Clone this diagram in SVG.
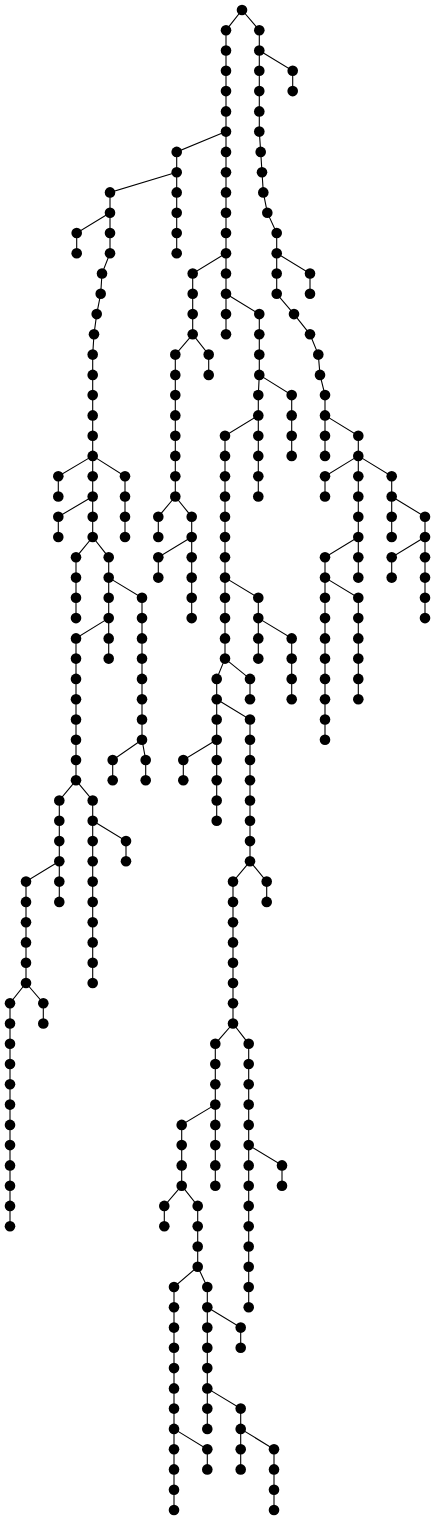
<svg xmlns="http://www.w3.org/2000/svg" width="435" height="1520" viewBox="0 0 435 1520">
<style>
.e path{fill:none;stroke:#000;stroke-width:1.1}
.n circle{fill:#000}
</style>
<rect width="435" height="1520" fill="#fff"/>
<g id="connectors" class="e">
<path d="M242 10L226 30.3V334.3"/>
<path d="M242 10L259.3 30.3V131.6L260.7 151.9L262 172.2L263.3 192.4L267.3 212.7L276.7 233V293.8L294 314.1L310 334.3L318.3 354.6L320 374.9L325 395.1V455.9"/>
<path d="M259.3 50.5L292.7 70.8V91.1"/>
<path d="M276.7 253.2L310 273.5V293.8"/>
<path d="M325 415.4L358.3 435.7V577.6"/>
<path d="M358.3 455.9L325 476.2V496.5"/>
<path d="M358.3 455.9L391.7 476.2V537"/>
<path d="M391.7 496.5L425 516.8V618.1"/>
<path d="M425 537L391.7 557.3V577.6"/>
<path d="M358.3 537L325 557.3V739.7"/>
<path d="M325 577.6L358.3 597.8V699.2"/>
<path d="M226 131.6L176.7 151.9V253.2"/>
<path d="M176.7 172.2L110 192.4V253.2L102 273.5L100.7 293.8L96.7 314.1L94 334.3L92.7 354.6V537"/>
<path d="M110 212.7L76.7 233V253.2"/>
<path d="M92.7 455.9L58.3 476.2V496.5"/>
<path d="M92.7 455.9L125 476.2V537"/>
<path d="M92.7 496.5L58.3 516.8V537"/>
<path d="M92.7 537L76 557.3V618.1"/>
<path d="M92.7 537L108.7 557.3V658.6"/>
<path d="M108.7 577.6L142 597.8V739.7"/>
<path d="M142 739.7L112.7 760V780.3"/>
<path d="M142 739.7L145.7 760V780.3"/>
<path d="M108.7 618.1L76 638.4V780.3"/>
<path d="M76 780.3L59.3 800.5V901.9"/>
<path d="M76 780.3L92.7 800.5V983"/>
<path d="M92.7 820.8L126 841.1V861.3"/>
<path d="M59.3 861.3L26 881.6V983"/>
<path d="M26 983L10 1003.2V1226.2"/>
<path d="M26 983L43.3 1003.2V1023.5"/>
<path d="M226 253.2L192.7 273.5V334.3"/>
<path d="M192.7 334.3L175.3 354.6V496.5"/>
<path d="M192.7 334.3L208.7 354.6V374.9"/>
<path d="M175.3 496.5L158.3 516.8V537"/>
<path d="M175.3 496.5L191.7 516.8V618.1"/>
<path d="M191.7 537L158.3 557.3V577.6"/>
<path d="M226 293.8L259.3 314.1V374.9"/>
<path d="M259.3 374.9L258.3 395.1V496.5"/>
<path d="M259.3 374.9L291.7 395.1V455.9"/>
<path d="M258.3 415.4L225 435.7V658.6"/>
<path d="M225 577.6L258.3 597.8V658.6"/>
<path d="M258.3 618.1L291.7 638.4V699.2"/>
<path d="M225 658.6L216.7 678.9V820.8"/>
<path d="M225 658.6L250 678.9V699.2"/>
<path d="M216.7 699.2L250 719.5V861.3"/>
<path d="M216.7 739.7L183.3 760V780.3"/>
<path d="M250 861.3L233 881.6V1023.5"/>
<path d="M250 861.3L266.7 881.6V901.9"/>
<path d="M233 1023.5L215.3 1043.8V1185.7"/>
<path d="M233 1023.5L248.7 1043.8V1307.3"/>
<path d="M215.3 1104.6L181.7 1124.9V1185.7"/>
<path d="M181.7 1185.7L164.3 1205.9V1226.2"/>
<path d="M181.7 1185.7L197.7 1205.9V1266.7"/>
<path d="M197.7 1266.7L174 1287V1510"/>
<path d="M197.7 1266.7L207.3 1287V1428.9"/>
<path d="M207.3 1307.3L240.7 1327.6V1347.8"/>
<path d="M207.3 1388.4L240.7 1408.6V1469.4"/>
<path d="M240.7 1428.9L274 1449.2V1510"/>
<path d="M174 1428.9L207.3 1449.2V1469.4"/>
<path d="M248.7 1145.1L282 1165.4V1185.7"/>
</g>
<g class="n">
<g id="n0"><circle cx="242" cy="10" r="5.3"/></g>
<g id="n1"><circle cx="226" cy="30.3" r="5.3"/></g>
<g id="n2"><circle cx="226" cy="50.5" r="5.3"/></g>
<g id="n3"><circle cx="226" cy="70.8" r="5.3"/></g>
<g id="n4"><circle cx="226" cy="91.1" r="5.3"/></g>
<g id="n5"><circle cx="226" cy="111.4" r="5.3"/></g>
<g id="n6"><circle cx="226" cy="131.6" r="5.3"/></g>
<g id="n7"><circle cx="226" cy="151.9" r="5.3"/></g>
<g id="n8"><circle cx="226" cy="172.2" r="5.3"/></g>
<g id="n9"><circle cx="226" cy="192.4" r="5.3"/></g>
<g id="n10"><circle cx="226" cy="212.7" r="5.3"/></g>
<g id="n11"><circle cx="226" cy="233" r="5.3"/></g>
<g id="n12"><circle cx="226" cy="253.2" r="5.3"/></g>
<g id="n13"><circle cx="226" cy="273.5" r="5.3"/></g>
<g id="n14"><circle cx="226" cy="293.8" r="5.3"/></g>
<g id="n15"><circle cx="226" cy="314.1" r="5.3"/></g>
<g id="n16"><circle cx="226" cy="334.3" r="5.3"/></g>
<g id="n17"><circle cx="259.3" cy="30.3" r="5.3"/></g>
<g id="n18"><circle cx="259.3" cy="50.5" r="5.3"/></g>
<g id="n19"><circle cx="259.3" cy="70.8" r="5.3"/></g>
<g id="n20"><circle cx="259.3" cy="91.1" r="5.3"/></g>
<g id="n21"><circle cx="259.3" cy="111.4" r="5.3"/></g>
<g id="n22"><circle cx="259.3" cy="131.6" r="5.3"/></g>
<g id="n23"><circle cx="260.7" cy="151.9" r="5.3"/></g>
<g id="n24"><circle cx="262" cy="172.2" r="5.3"/></g>
<g id="n25"><circle cx="263.3" cy="192.4" r="5.3"/></g>
<g id="n26"><circle cx="267.3" cy="212.7" r="5.3"/></g>
<g id="n27"><circle cx="276.7" cy="233" r="5.3"/></g>
<g id="n28"><circle cx="276.7" cy="253.2" r="5.3"/></g>
<g id="n29"><circle cx="276.7" cy="273.5" r="5.3"/></g>
<g id="n30"><circle cx="276.7" cy="293.8" r="5.3"/></g>
<g id="n31"><circle cx="294" cy="314.1" r="5.3"/></g>
<g id="n32"><circle cx="310" cy="334.3" r="5.3"/></g>
<g id="n33"><circle cx="318.3" cy="354.6" r="5.3"/></g>
<g id="n34"><circle cx="320" cy="374.9" r="5.3"/></g>
<g id="n35"><circle cx="325" cy="395.1" r="5.3"/></g>
<g id="n36"><circle cx="325" cy="415.4" r="5.3"/></g>
<g id="n37"><circle cx="325" cy="435.7" r="5.3"/></g>
<g id="n38"><circle cx="325" cy="455.9" r="5.3"/></g>
<g id="n39"><circle cx="292.7" cy="70.8" r="5.3"/></g>
<g id="n40"><circle cx="292.7" cy="91.1" r="5.3"/></g>
<g id="n41"><circle cx="310" cy="273.5" r="5.3"/></g>
<g id="n42"><circle cx="310" cy="293.8" r="5.3"/></g>
<g id="n43"><circle cx="358.3" cy="435.7" r="5.3"/></g>
<g id="n44"><circle cx="358.3" cy="455.9" r="5.3"/></g>
<g id="n45"><circle cx="358.3" cy="476.2" r="5.3"/></g>
<g id="n46"><circle cx="358.3" cy="496.5" r="5.3"/></g>
<g id="n47"><circle cx="358.3" cy="516.8" r="5.3"/></g>
<g id="n48"><circle cx="358.3" cy="537" r="5.3"/></g>
<g id="n49"><circle cx="358.3" cy="557.3" r="5.3"/></g>
<g id="n50"><circle cx="358.3" cy="577.6" r="5.3"/></g>
<g id="n51"><circle cx="325" cy="476.2" r="5.3"/></g>
<g id="n52"><circle cx="325" cy="496.5" r="5.3"/></g>
<g id="n53"><circle cx="391.7" cy="476.2" r="5.3"/></g>
<g id="n54"><circle cx="391.7" cy="496.5" r="5.3"/></g>
<g id="n55"><circle cx="391.7" cy="516.8" r="5.3"/></g>
<g id="n56"><circle cx="391.7" cy="537" r="5.3"/></g>
<g id="n57"><circle cx="425" cy="516.8" r="5.3"/></g>
<g id="n58"><circle cx="425" cy="537" r="5.3"/></g>
<g id="n59"><circle cx="425" cy="557.3" r="5.3"/></g>
<g id="n60"><circle cx="425" cy="577.6" r="5.3"/></g>
<g id="n61"><circle cx="425" cy="597.8" r="5.3"/></g>
<g id="n62"><circle cx="425" cy="618.1" r="5.3"/></g>
<g id="n63"><circle cx="391.7" cy="557.3" r="5.3"/></g>
<g id="n64"><circle cx="391.7" cy="577.6" r="5.3"/></g>
<g id="n65"><circle cx="325" cy="557.3" r="5.3"/></g>
<g id="n66"><circle cx="325" cy="577.6" r="5.3"/></g>
<g id="n67"><circle cx="325" cy="597.8" r="5.3"/></g>
<g id="n68"><circle cx="325" cy="618.1" r="5.3"/></g>
<g id="n69"><circle cx="325" cy="638.4" r="5.3"/></g>
<g id="n70"><circle cx="325" cy="658.6" r="5.3"/></g>
<g id="n71"><circle cx="325" cy="678.9" r="5.3"/></g>
<g id="n72"><circle cx="325" cy="699.2" r="5.3"/></g>
<g id="n73"><circle cx="325" cy="719.5" r="5.3"/></g>
<g id="n74"><circle cx="325" cy="739.7" r="5.3"/></g>
<g id="n75"><circle cx="358.3" cy="597.8" r="5.3"/></g>
<g id="n76"><circle cx="358.3" cy="618.1" r="5.3"/></g>
<g id="n77"><circle cx="358.3" cy="638.4" r="5.3"/></g>
<g id="n78"><circle cx="358.3" cy="658.6" r="5.3"/></g>
<g id="n79"><circle cx="358.3" cy="678.9" r="5.3"/></g>
<g id="n80"><circle cx="358.3" cy="699.2" r="5.3"/></g>
<g id="n81"><circle cx="176.7" cy="151.9" r="5.3"/></g>
<g id="n82"><circle cx="176.7" cy="172.2" r="5.3"/></g>
<g id="n83"><circle cx="176.7" cy="192.4" r="5.3"/></g>
<g id="n84"><circle cx="176.7" cy="212.7" r="5.3"/></g>
<g id="n85"><circle cx="176.7" cy="233" r="5.3"/></g>
<g id="n86"><circle cx="176.7" cy="253.2" r="5.3"/></g>
<g id="n87"><circle cx="110" cy="192.4" r="5.3"/></g>
<g id="n88"><circle cx="110" cy="212.7" r="5.3"/></g>
<g id="n89"><circle cx="110" cy="233" r="5.3"/></g>
<g id="n90"><circle cx="110" cy="253.2" r="5.3"/></g>
<g id="n91"><circle cx="102" cy="273.5" r="5.3"/></g>
<g id="n92"><circle cx="100.7" cy="293.8" r="5.3"/></g>
<g id="n93"><circle cx="96.7" cy="314.1" r="5.3"/></g>
<g id="n94"><circle cx="94" cy="334.3" r="5.3"/></g>
<g id="n95"><circle cx="92.7" cy="354.6" r="5.3"/></g>
<g id="n96"><circle cx="92.7" cy="374.9" r="5.3"/></g>
<g id="n97"><circle cx="92.7" cy="395.1" r="5.3"/></g>
<g id="n98"><circle cx="92.7" cy="415.4" r="5.3"/></g>
<g id="n99"><circle cx="92.7" cy="435.7" r="5.3"/></g>
<g id="n100"><circle cx="92.7" cy="455.9" r="5.3"/></g>
<g id="n101"><circle cx="92.7" cy="476.2" r="5.3"/></g>
<g id="n102"><circle cx="92.7" cy="496.5" r="5.3"/></g>
<g id="n103"><circle cx="92.7" cy="516.8" r="5.3"/></g>
<g id="n104"><circle cx="92.7" cy="537" r="5.3"/></g>
<g id="n105"><circle cx="76.7" cy="233" r="5.3"/></g>
<g id="n106"><circle cx="76.7" cy="253.2" r="5.3"/></g>
<g id="n107"><circle cx="58.3" cy="476.2" r="5.3"/></g>
<g id="n108"><circle cx="58.3" cy="496.5" r="5.3"/></g>
<g id="n109"><circle cx="125" cy="476.2" r="5.3"/></g>
<g id="n110"><circle cx="125" cy="496.5" r="5.3"/></g>
<g id="n111"><circle cx="125" cy="516.8" r="5.3"/></g>
<g id="n112"><circle cx="125" cy="537" r="5.3"/></g>
<g id="n113"><circle cx="58.3" cy="516.8" r="5.3"/></g>
<g id="n114"><circle cx="58.3" cy="537" r="5.3"/></g>
<g id="n115"><circle cx="76" cy="557.3" r="5.3"/></g>
<g id="n116"><circle cx="76" cy="577.6" r="5.3"/></g>
<g id="n117"><circle cx="76" cy="597.8" r="5.3"/></g>
<g id="n118"><circle cx="76" cy="618.1" r="5.3"/></g>
<g id="n119"><circle cx="108.7" cy="557.3" r="5.3"/></g>
<g id="n120"><circle cx="108.7" cy="577.6" r="5.3"/></g>
<g id="n121"><circle cx="108.7" cy="597.8" r="5.3"/></g>
<g id="n122"><circle cx="108.7" cy="618.1" r="5.3"/></g>
<g id="n123"><circle cx="108.7" cy="638.4" r="5.3"/></g>
<g id="n124"><circle cx="108.7" cy="658.6" r="5.3"/></g>
<g id="n125"><circle cx="142" cy="597.8" r="5.3"/></g>
<g id="n126"><circle cx="142" cy="618.1" r="5.3"/></g>
<g id="n127"><circle cx="142" cy="638.4" r="5.3"/></g>
<g id="n128"><circle cx="142" cy="658.6" r="5.3"/></g>
<g id="n129"><circle cx="142" cy="678.9" r="5.3"/></g>
<g id="n130"><circle cx="142" cy="699.2" r="5.3"/></g>
<g id="n131"><circle cx="142" cy="719.5" r="5.3"/></g>
<g id="n132"><circle cx="142" cy="739.7" r="5.3"/></g>
<g id="n133"><circle cx="112.7" cy="760" r="5.3"/></g>
<g id="n134"><circle cx="112.7" cy="780.3" r="5.3"/></g>
<g id="n135"><circle cx="145.7" cy="760" r="5.3"/></g>
<g id="n136"><circle cx="145.7" cy="780.3" r="5.3"/></g>
<g id="n137"><circle cx="76" cy="638.4" r="5.3"/></g>
<g id="n138"><circle cx="76" cy="658.6" r="5.3"/></g>
<g id="n139"><circle cx="76" cy="678.9" r="5.3"/></g>
<g id="n140"><circle cx="76" cy="699.2" r="5.3"/></g>
<g id="n141"><circle cx="76" cy="719.5" r="5.3"/></g>
<g id="n142"><circle cx="76" cy="739.7" r="5.3"/></g>
<g id="n143"><circle cx="76" cy="760" r="5.3"/></g>
<g id="n144"><circle cx="76" cy="780.3" r="5.3"/></g>
<g id="n145"><circle cx="59.3" cy="800.5" r="5.3"/></g>
<g id="n146"><circle cx="59.3" cy="820.8" r="5.3"/></g>
<g id="n147"><circle cx="59.3" cy="841.1" r="5.3"/></g>
<g id="n148"><circle cx="59.3" cy="861.3" r="5.3"/></g>
<g id="n149"><circle cx="59.3" cy="881.6" r="5.3"/></g>
<g id="n150"><circle cx="59.3" cy="901.9" r="5.3"/></g>
<g id="n151"><circle cx="92.7" cy="800.5" r="5.3"/></g>
<g id="n152"><circle cx="92.7" cy="820.8" r="5.3"/></g>
<g id="n153"><circle cx="92.7" cy="841.1" r="5.3"/></g>
<g id="n154"><circle cx="92.7" cy="861.3" r="5.3"/></g>
<g id="n155"><circle cx="92.7" cy="881.6" r="5.3"/></g>
<g id="n156"><circle cx="92.7" cy="901.9" r="5.3"/></g>
<g id="n157"><circle cx="92.7" cy="922.2" r="5.3"/></g>
<g id="n158"><circle cx="92.7" cy="942.4" r="5.3"/></g>
<g id="n159"><circle cx="92.7" cy="962.7" r="5.3"/></g>
<g id="n160"><circle cx="92.7" cy="983" r="5.3"/></g>
<g id="n161"><circle cx="126" cy="841.1" r="5.3"/></g>
<g id="n162"><circle cx="126" cy="861.3" r="5.3"/></g>
<g id="n163"><circle cx="26" cy="881.6" r="5.3"/></g>
<g id="n164"><circle cx="26" cy="901.9" r="5.3"/></g>
<g id="n165"><circle cx="26" cy="922.2" r="5.3"/></g>
<g id="n166"><circle cx="26" cy="942.4" r="5.3"/></g>
<g id="n167"><circle cx="26" cy="962.7" r="5.3"/></g>
<g id="n168"><circle cx="26" cy="983" r="5.3"/></g>
<g id="n169"><circle cx="10" cy="1003.2" r="5.3"/></g>
<g id="n170"><circle cx="10" cy="1023.5" r="5.3"/></g>
<g id="n171"><circle cx="10" cy="1043.8" r="5.3"/></g>
<g id="n172"><circle cx="10" cy="1064" r="5.3"/></g>
<g id="n173"><circle cx="10" cy="1084.3" r="5.3"/></g>
<g id="n174"><circle cx="10" cy="1104.6" r="5.3"/></g>
<g id="n175"><circle cx="10" cy="1124.9" r="5.3"/></g>
<g id="n176"><circle cx="10" cy="1145.1" r="5.3"/></g>
<g id="n177"><circle cx="10" cy="1165.4" r="5.3"/></g>
<g id="n178"><circle cx="10" cy="1185.7" r="5.3"/></g>
<g id="n179"><circle cx="10" cy="1205.9" r="5.3"/></g>
<g id="n180"><circle cx="10" cy="1226.2" r="5.3"/></g>
<g id="n181"><circle cx="43.3" cy="1003.2" r="5.3"/></g>
<g id="n182"><circle cx="43.3" cy="1023.5" r="5.3"/></g>
<g id="n183"><circle cx="192.7" cy="273.5" r="5.3"/></g>
<g id="n184"><circle cx="192.7" cy="293.8" r="5.3"/></g>
<g id="n185"><circle cx="192.7" cy="314.1" r="5.3"/></g>
<g id="n186"><circle cx="192.7" cy="334.3" r="5.3"/></g>
<g id="n187"><circle cx="175.3" cy="354.6" r="5.3"/></g>
<g id="n188"><circle cx="175.3" cy="374.9" r="5.3"/></g>
<g id="n189"><circle cx="175.3" cy="395.1" r="5.3"/></g>
<g id="n190"><circle cx="175.3" cy="415.4" r="5.3"/></g>
<g id="n191"><circle cx="175.3" cy="435.7" r="5.3"/></g>
<g id="n192"><circle cx="175.3" cy="455.9" r="5.3"/></g>
<g id="n193"><circle cx="175.3" cy="476.2" r="5.3"/></g>
<g id="n194"><circle cx="175.3" cy="496.5" r="5.3"/></g>
<g id="n195"><circle cx="208.7" cy="354.6" r="5.3"/></g>
<g id="n196"><circle cx="208.7" cy="374.9" r="5.3"/></g>
<g id="n197"><circle cx="158.3" cy="516.8" r="5.3"/></g>
<g id="n198"><circle cx="158.3" cy="537" r="5.3"/></g>
<g id="n199"><circle cx="191.7" cy="516.8" r="5.3"/></g>
<g id="n200"><circle cx="191.7" cy="537" r="5.3"/></g>
<g id="n201"><circle cx="191.7" cy="557.3" r="5.3"/></g>
<g id="n202"><circle cx="191.7" cy="577.6" r="5.3"/></g>
<g id="n203"><circle cx="191.7" cy="597.8" r="5.3"/></g>
<g id="n204"><circle cx="191.7" cy="618.1" r="5.3"/></g>
<g id="n205"><circle cx="158.3" cy="557.3" r="5.3"/></g>
<g id="n206"><circle cx="158.3" cy="577.6" r="5.3"/></g>
<g id="n207"><circle cx="259.3" cy="314.1" r="5.3"/></g>
<g id="n208"><circle cx="259.3" cy="334.3" r="5.3"/></g>
<g id="n209"><circle cx="259.3" cy="354.6" r="5.3"/></g>
<g id="n210"><circle cx="259.3" cy="374.9" r="5.3"/></g>
<g id="n211"><circle cx="258.3" cy="395.1" r="5.3"/></g>
<g id="n212"><circle cx="258.3" cy="415.4" r="5.3"/></g>
<g id="n213"><circle cx="258.3" cy="435.7" r="5.3"/></g>
<g id="n214"><circle cx="258.3" cy="455.9" r="5.3"/></g>
<g id="n215"><circle cx="258.3" cy="476.2" r="5.3"/></g>
<g id="n216"><circle cx="258.3" cy="496.5" r="5.3"/></g>
<g id="n217"><circle cx="291.7" cy="395.1" r="5.3"/></g>
<g id="n218"><circle cx="291.7" cy="415.4" r="5.3"/></g>
<g id="n219"><circle cx="291.7" cy="435.7" r="5.3"/></g>
<g id="n220"><circle cx="291.7" cy="455.9" r="5.3"/></g>
<g id="n221"><circle cx="225" cy="435.7" r="5.3"/></g>
<g id="n222"><circle cx="225" cy="455.9" r="5.3"/></g>
<g id="n223"><circle cx="225" cy="476.2" r="5.3"/></g>
<g id="n224"><circle cx="225" cy="496.5" r="5.3"/></g>
<g id="n225"><circle cx="225" cy="516.8" r="5.3"/></g>
<g id="n226"><circle cx="225" cy="537" r="5.3"/></g>
<g id="n227"><circle cx="225" cy="557.3" r="5.3"/></g>
<g id="n228"><circle cx="225" cy="577.6" r="5.3"/></g>
<g id="n229"><circle cx="225" cy="597.8" r="5.3"/></g>
<g id="n230"><circle cx="225" cy="618.1" r="5.3"/></g>
<g id="n231"><circle cx="225" cy="638.4" r="5.3"/></g>
<g id="n232"><circle cx="225" cy="658.6" r="5.3"/></g>
<g id="n233"><circle cx="258.3" cy="597.8" r="5.3"/></g>
<g id="n234"><circle cx="258.3" cy="618.1" r="5.3"/></g>
<g id="n235"><circle cx="258.3" cy="638.4" r="5.3"/></g>
<g id="n236"><circle cx="258.3" cy="658.6" r="5.3"/></g>
<g id="n237"><circle cx="291.7" cy="638.4" r="5.3"/></g>
<g id="n238"><circle cx="291.7" cy="658.6" r="5.3"/></g>
<g id="n239"><circle cx="291.7" cy="678.9" r="5.3"/></g>
<g id="n240"><circle cx="291.7" cy="699.2" r="5.3"/></g>
<g id="n241"><circle cx="216.7" cy="678.9" r="5.3"/></g>
<g id="n242"><circle cx="216.7" cy="699.2" r="5.3"/></g>
<g id="n243"><circle cx="216.7" cy="719.5" r="5.3"/></g>
<g id="n244"><circle cx="216.7" cy="739.7" r="5.3"/></g>
<g id="n245"><circle cx="216.7" cy="760" r="5.3"/></g>
<g id="n246"><circle cx="216.7" cy="780.3" r="5.3"/></g>
<g id="n247"><circle cx="216.7" cy="800.5" r="5.3"/></g>
<g id="n248"><circle cx="216.7" cy="820.8" r="5.3"/></g>
<g id="n249"><circle cx="250" cy="678.9" r="5.3"/></g>
<g id="n250"><circle cx="250" cy="699.2" r="5.3"/></g>
<g id="n251"><circle cx="250" cy="719.5" r="5.3"/></g>
<g id="n252"><circle cx="250" cy="739.7" r="5.3"/></g>
<g id="n253"><circle cx="250" cy="760" r="5.3"/></g>
<g id="n254"><circle cx="250" cy="780.3" r="5.3"/></g>
<g id="n255"><circle cx="250" cy="800.5" r="5.3"/></g>
<g id="n256"><circle cx="250" cy="820.8" r="5.3"/></g>
<g id="n257"><circle cx="250" cy="841.1" r="5.3"/></g>
<g id="n258"><circle cx="250" cy="861.3" r="5.3"/></g>
<g id="n259"><circle cx="183.3" cy="760" r="5.3"/></g>
<g id="n260"><circle cx="183.3" cy="780.3" r="5.3"/></g>
<g id="n261"><circle cx="233" cy="881.6" r="5.3"/></g>
<g id="n262"><circle cx="233" cy="901.9" r="5.3"/></g>
<g id="n263"><circle cx="233" cy="922.2" r="5.3"/></g>
<g id="n264"><circle cx="233" cy="942.4" r="5.3"/></g>
<g id="n265"><circle cx="233" cy="962.7" r="5.3"/></g>
<g id="n266"><circle cx="233" cy="983" r="5.3"/></g>
<g id="n267"><circle cx="233" cy="1003.2" r="5.3"/></g>
<g id="n268"><circle cx="233" cy="1023.5" r="5.3"/></g>
<g id="n269"><circle cx="266.7" cy="881.6" r="5.3"/></g>
<g id="n270"><circle cx="266.7" cy="901.9" r="5.3"/></g>
<g id="n271"><circle cx="215.3" cy="1043.8" r="5.3"/></g>
<g id="n272"><circle cx="215.3" cy="1064" r="5.3"/></g>
<g id="n273"><circle cx="215.3" cy="1084.3" r="5.3"/></g>
<g id="n274"><circle cx="215.3" cy="1104.6" r="5.3"/></g>
<g id="n275"><circle cx="215.3" cy="1124.9" r="5.3"/></g>
<g id="n276"><circle cx="215.3" cy="1145.1" r="5.3"/></g>
<g id="n277"><circle cx="215.3" cy="1165.4" r="5.3"/></g>
<g id="n278"><circle cx="215.3" cy="1185.7" r="5.3"/></g>
<g id="n279"><circle cx="181.7" cy="1124.9" r="5.3"/></g>
<g id="n280"><circle cx="181.7" cy="1145.1" r="5.3"/></g>
<g id="n281"><circle cx="181.7" cy="1165.4" r="5.3"/></g>
<g id="n282"><circle cx="181.7" cy="1185.7" r="5.3"/></g>
<g id="n283"><circle cx="164.3" cy="1205.9" r="5.3"/></g>
<g id="n284"><circle cx="164.3" cy="1226.2" r="5.3"/></g>
<g id="n285"><circle cx="197.7" cy="1205.9" r="5.3"/></g>
<g id="n286"><circle cx="197.7" cy="1226.2" r="5.3"/></g>
<g id="n287"><circle cx="197.7" cy="1246.5" r="5.3"/></g>
<g id="n288"><circle cx="197.7" cy="1266.7" r="5.3"/></g>
<g id="n289"><circle cx="174" cy="1287" r="5.3"/></g>
<g id="n290"><circle cx="174" cy="1307.3" r="5.3"/></g>
<g id="n291"><circle cx="174" cy="1327.6" r="5.3"/></g>
<g id="n292"><circle cx="174" cy="1347.8" r="5.3"/></g>
<g id="n293"><circle cx="174" cy="1368.1" r="5.3"/></g>
<g id="n294"><circle cx="174" cy="1388.4" r="5.3"/></g>
<g id="n295"><circle cx="174" cy="1408.6" r="5.3"/></g>
<g id="n296"><circle cx="174" cy="1428.9" r="5.3"/></g>
<g id="n297"><circle cx="174" cy="1449.2" r="5.3"/></g>
<g id="n298"><circle cx="174" cy="1469.4" r="5.3"/></g>
<g id="n299"><circle cx="174" cy="1489.7" r="5.3"/></g>
<g id="n300"><circle cx="174" cy="1510" r="5.3"/></g>
<g id="n301"><circle cx="207.3" cy="1287" r="5.3"/></g>
<g id="n302"><circle cx="207.3" cy="1307.3" r="5.3"/></g>
<g id="n303"><circle cx="207.3" cy="1327.6" r="5.3"/></g>
<g id="n304"><circle cx="207.3" cy="1347.8" r="5.3"/></g>
<g id="n305"><circle cx="207.3" cy="1368.1" r="5.3"/></g>
<g id="n306"><circle cx="207.3" cy="1388.4" r="5.3"/></g>
<g id="n307"><circle cx="207.3" cy="1408.6" r="5.3"/></g>
<g id="n308"><circle cx="207.3" cy="1428.9" r="5.3"/></g>
<g id="n309"><circle cx="240.7" cy="1327.6" r="5.3"/></g>
<g id="n310"><circle cx="240.7" cy="1347.8" r="5.3"/></g>
<g id="n311"><circle cx="240.7" cy="1408.6" r="5.3"/></g>
<g id="n312"><circle cx="240.7" cy="1428.9" r="5.3"/></g>
<g id="n313"><circle cx="240.7" cy="1449.2" r="5.3"/></g>
<g id="n314"><circle cx="240.7" cy="1469.4" r="5.3"/></g>
<g id="n315"><circle cx="274" cy="1449.2" r="5.3"/></g>
<g id="n316"><circle cx="274" cy="1469.4" r="5.3"/></g>
<g id="n317"><circle cx="274" cy="1489.7" r="5.3"/></g>
<g id="n318"><circle cx="274" cy="1510" r="5.3"/></g>
<g id="n319"><circle cx="207.3" cy="1449.2" r="5.3"/></g>
<g id="n320"><circle cx="207.3" cy="1469.4" r="5.3"/></g>
<g id="n321"><circle cx="248.7" cy="1043.8" r="5.3"/></g>
<g id="n322"><circle cx="248.7" cy="1064" r="5.3"/></g>
<g id="n323"><circle cx="248.7" cy="1084.3" r="5.3"/></g>
<g id="n324"><circle cx="248.7" cy="1104.6" r="5.3"/></g>
<g id="n325"><circle cx="248.7" cy="1124.9" r="5.3"/></g>
<g id="n326"><circle cx="248.7" cy="1145.1" r="5.3"/></g>
<g id="n327"><circle cx="248.7" cy="1165.4" r="5.3"/></g>
<g id="n328"><circle cx="248.7" cy="1185.7" r="5.3"/></g>
<g id="n329"><circle cx="248.7" cy="1205.9" r="5.3"/></g>
<g id="n330"><circle cx="248.7" cy="1226.2" r="5.3"/></g>
<g id="n331"><circle cx="248.7" cy="1246.5" r="5.3"/></g>
<g id="n332"><circle cx="248.7" cy="1266.7" r="5.3"/></g>
<g id="n333"><circle cx="248.7" cy="1287" r="5.3"/></g>
<g id="n334"><circle cx="248.7" cy="1307.3" r="5.3"/></g>
<g id="n335"><circle cx="282" cy="1165.4" r="5.3"/></g>
<g id="n336"><circle cx="282" cy="1185.7" r="5.3"/></g>
</g>
</svg>
